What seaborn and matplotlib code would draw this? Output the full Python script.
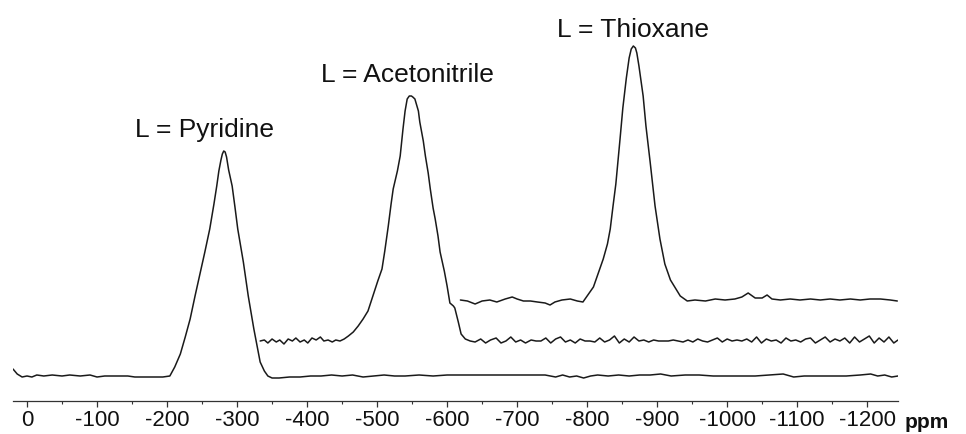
import numpy as np
import pandas as pd
import matplotlib
matplotlib.use("Agg")
import matplotlib.pyplot as plt
import seaborn as sns

# spectra: chemical shift (ppm) and intensity (a.u.)
pyr_ppm = [20, 14, 7, 0, -7, -14, -24, -36, -50, -61, -76, -90, -100, -111, -130, -144,
           -154, -176, -194, -204, -211, -219, -226, -233, -240, -247, -254, -261, -267,
           -271, -274, -277, -279, -281, -283, -285, -288, -293, -297, -301, -309, -316,
           -324, -333, -339, -344, -350, -360, -375, -390, -405, -420, -435, -450, -465,
           -480, -495, -510, -525, -540, -560, -580, -600, -620, -640, -660, -680, -700,
           -720, -740, -755, -765, -775, -785, -795, -805, -815, -830, -845, -860, -875,
           -890, -905, -920, -940, -960, -980, -1000, -1020, -1040, -1060, -1080, -1095,
           -1110, -1130, -1150, -1170, -1190, -1205, -1215, -1225, -1235, -1244]
pyr_int = [7, 2, -1, 0, -1, 1, 0, 1, 0, 1, 0, 1, -1, 0, 0, 0,
           -1, -1, -1, 0, 9, 22, 39, 57, 80, 102, 124, 147, 172,
           190, 205, 216, 222, 225, 224, 219, 206, 190, 169, 147, 114, 80,
           47, 14, 5, 0, -2, -2, -1, -1, 0, 0, 1, 0, 1,
           -1, 0, 1, 0, 0, 1, 0, 1, 1, 1, 1, 1, 1,
           1, 1, -1, 1, -1, 0, -2, 0, 1, 0, 1, 0, 1,
           1, 2, 0, 1, 1, 0, 0, 0, 0, 1, 2, -1,
           0, 0, 0, 0, 1, 2, 0, 1, -1, 0]

acn_ppm = [-333, -339, -344, -350, -356, -361, -367, -373, -379, -384, -390, -396, -401,
           -407, -413, -419, -424, -430, -436, -441, -447, -453, -459, -466, -473, -480,
           -487, -494, -501, -507, -511, -516, -520, -523, -529, -533, -537, -540, -543,
           -546, -549, -551, -554, -559, -561, -566, -569, -573, -576, -580, -583, -587,
           -590, -596, -600, -604, -609, -611, -616, -620, -626, -633, -640, -648, -655,
           -662, -670, -677, -684, -691, -698, -705, -712, -720, -727, -734, -741, -748,
           -755, -762, -769, -776, -783, -790, -797, -804, -811, -818, -825, -832, -839,
           -846, -853, -860, -867, -874, -881, -888, -895, -902, -909, -916, -923, -930,
           -937, -944, -951, -958, -965, -972, -979, -986, -993, -1000, -1007, -1014,
           -1021, -1028, -1035, -1042, -1049, -1056, -1063, -1070, -1077, -1084, -1091,
           -1098, -1105, -1112, -1119, -1126, -1133, -1140, -1147, -1154, -1161, -1168,
           -1175, -1182, -1189, -1196, -1203, -1210, -1217, -1224, -1231, -1238, -1244]
acn_int = [35, 36, 33, 37, 34, 36, 32, 37, 35, 38, 34, 36, 33,
           38, 36, 39, 35, 36, 34, 36, 35, 37, 40, 44, 50, 57,
           65, 80, 95, 107, 125, 150, 172, 187, 205, 220, 247, 265, 277,
           280, 280, 279, 277, 265, 254, 235, 220, 203, 187, 168, 157, 140,
           124, 105, 90, 73, 70, 68, 54, 42, 37, 35, 34, 37, 33,
           36, 38, 33, 35, 39, 34, 36, 33, 36, 35, 35, 38, 33,
           37, 39, 34, 36, 33, 37, 35, 35, 34, 38, 34, 36, 40,
           33, 37, 34, 39, 35, 36, 34, 36, 35, 35, 35, 36, 35,
           34, 36, 34, 37, 35, 34, 36, 38, 34, 37, 35, 36,
           35, 37, 34, 39, 33, 37, 35, 36, 33, 38, 35,
           36, 34, 37, 38, 33, 36, 39, 34, 37, 35, 38,
           33, 39, 34, 37, 40, 33, 38, 34, 39, 33, 36]

thx_ppm = [-619, -629, -640, -650, -661, -671, -683, -693, -700, -709, -719, -729, -740,
           -747, -754, -764, -776, -786, -794, -801, -809, -816, -823, -829, -833, -837,
           -841, -847, -851, -856, -860, -863, -866, -869, -871, -874, -877, -880, -884,
           -890, -897, -904, -911, -919, -926, -933, -943, -954, -969, -983, -997, -1011,
           -1021, -1030, -1040, -1050, -1057, -1064, -1076, -1090, -1104, -1119, -1133,
           -1147, -1161, -1176, -1190, -1204, -1219, -1233, -1243]
thx_int = [76, 75, 72, 75, 76, 74, 77, 79, 77, 75, 75, 74, 73,
           71, 74, 76, 77, 75, 74, 81, 89, 103, 117, 132, 147, 170,
           192, 237, 268, 298, 318, 327, 330, 328, 323, 310, 295, 280, 250,
           214, 170, 137, 112, 96, 88, 80, 75, 76, 75, 77, 76, 77,
           79, 83, 78, 78, 81, 77, 76, 77, 76, 77, 76,
           77, 76, 77, 76, 77, 77, 76, 75]

labels = ["L = Pyridine", "L = Acetonitrile", "L = Thioxane"]
label_ppm = [-254, -544, -866]
label_int = [240, 295, 340]

tick_values = list(range(0, -1201, -100))
tick_labels = [str(v) for v in tick_values]

df = pd.concat([
    pd.DataFrame({"ppm": pyr_ppm, "intensity": pyr_int, "ligand": "Pyridine"}),
    pd.DataFrame({"ppm": acn_ppm, "intensity": acn_int, "ligand": "Acetonitrile"}),
    pd.DataFrame({"ppm": thx_ppm, "intensity": thx_int, "ligand": "Thioxane"}),
])

sns.set_style("white")
plt.rcParams["font.family"] = ["Liberation Sans", "DejaVu Sans"]

fig = plt.figure(figsize=(9.66, 4.35), dpi=100)
ax = fig.add_axes([13 / 966, 33 / 435, 885 / 966, 392 / 435])

for name in ["Pyridine", "Acetonitrile", "Thioxane"]:
    sub = df[df["ligand"] == name]
    sns.lineplot(data=sub, x="ppm", y="intensity", sort=False, estimator=None,
                 color="#1a1a1a", linewidth=1.1, ax=ax)

for txt, xp, yp in zip(labels, label_ppm, label_int):
    ax.text(xp, yp, txt, ha="center", va="baseline", fontsize=19, color="#111111",
            clip_on=False)

ax.set_xlim(20, -1244)
ax.set_ylim(-25, 367)
ax.set_xticks(tick_values)
ax.set_xticklabels(tick_labels)
ax.set_xticks(list(range(-50, -1201, -100)), minor=True)
ax.set_yticks([])
ax.set_xlabel("")
ax.set_ylabel("")
ax.tick_params(axis="x", which="major", direction="out", length=4.5, width=0.9,
               colors="#333333", labelsize=16, labelcolor="#111111", pad=1.5,
               bottom=True)
ax.tick_params(axis="x", which="minor", direction="out", length=2.5, width=0.8,
               colors="#333333", bottom=True)
for side in ["left", "top", "right"]:
    ax.spines[side].set_visible(False)
ax.spines["bottom"].set_linewidth(0.9)
ax.spines["bottom"].set_color("#333333")
ax.patch.set_alpha(0)

fig.text(905 / 966, (435 - 423) / 435, "ppm", ha="left", va="center",
         fontsize=15, fontweight="bold", color="#111111")

fig.savefig("out.png", dpi=100)
plt.close(fig)
